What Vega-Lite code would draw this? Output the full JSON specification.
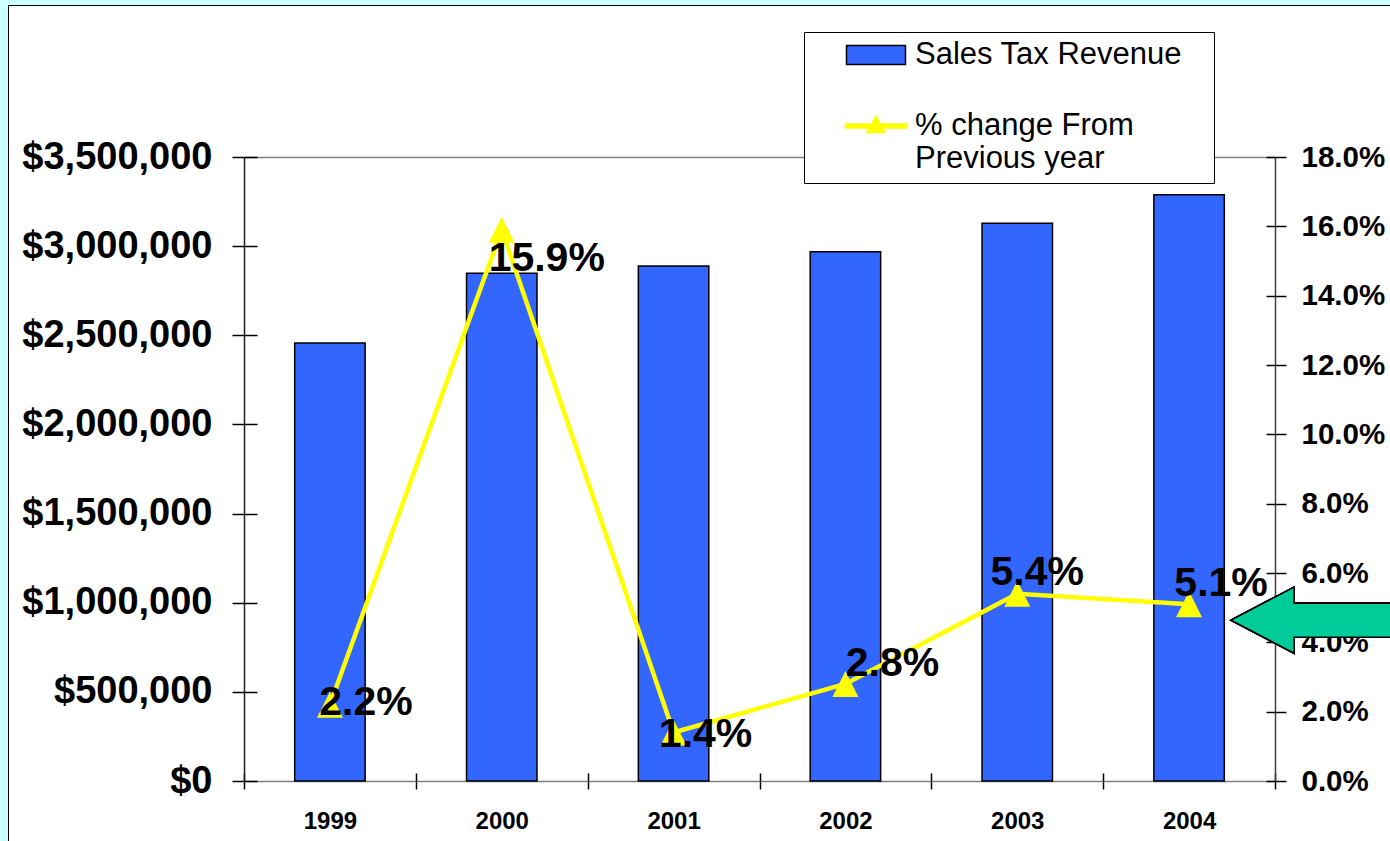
{
  "$schema": "https://vega.github.io/schema/vega-lite/v6.json",
  "width": 1382,
  "height": 836,
  "autosize": {"type": "none"},
  "padding": {"left": 8, "top": 5, "right": 0, "bottom": 0},
  "background": "#CCFFFF",
  "config": {
    "view": {"fill": "white", "stroke": "black", "strokeWidth": 1, "strokeDash": [1382, 2218, 836]},
    "font": "Liberation Sans",
    "axis": {"labelFont": "Liberation Sans", "labelFontWeight": "bold", "labelColor": "black", "tickColor": "black", "grid": false}
  },
  "data": {
    "values": [
      {"year": "1999", "revenue": 2457000, "pct": 2.2, "label": "2.2%"},
      {"year": "2000", "revenue": 2848000, "pct": 15.9, "label": "15.9%"},
      {"year": "2001", "revenue": 2888000, "pct": 1.4, "label": "1.4%"},
      {"year": "2002", "revenue": 2969000, "pct": 2.8, "label": "2.8%"},
      {"year": "2003", "revenue": 3129000, "pct": 5.4, "label": "5.4%"},
      {"year": "2004", "revenue": 3288000, "pct": 5.1, "label": "5.1%"}
    ]
  },
  "resolve": {"scale": {"y": "independent"}, "axis": {"x": "independent", "y": "independent"}},
  "layer": [
    {
      "mark": {"type": "bar", "width": {"band": 0.41}, "stroke": "black", "strokeWidth": 1.5},
      "encoding": {
        "x": {
          "field": "year", "type": "ordinal",
          "scale": {"range": [236, 1267], "paddingInner": 0, "paddingOuter": 0},
          "axis": {"orient": "bottom", "offset": -60, "title": null, "tickBand": "extent", "tickSize": 8, "tickWidth": 1.5, "labelFontSize": 24, "labelPadding": 20, "labelAngle": 0, "domainColor": "#808080", "domainWidth": 1.5}
        },
        "y": {
          "field": "revenue", "type": "quantitative",
          "scale": {"domain": [0, 3500000], "range": [776, 152], "nice": false},
          "axis": {"orient": "left", "offset": -236, "title": null, "values": [0, 500000, 1000000, 1500000, 2000000, 2500000, 3000000, 3500000], "format": "$,.0f", "labelFontSize": 38, "labelLimit": 400, "tickSize": 12, "tickWidth": 1.5, "labelPadding": 20, "domainColor": "#202020", "domainWidth": 1.5}
        },
        "color": {
          "datum": "Sales Tax Revenue", "type": "nominal",
          "scale": {"domain": ["Sales Tax Revenue"], "range": ["#3366FF"]},
          "legend": {
            "orient": "none", "legendX": 852.5, "legendY": 34.5, "title": null, "zindex": 2,
            "padding": 0,
            "symbolType": "M-29.5,-9.5H29.5V9.5H-29.5Z", "symbolSize": 4, "symbolOffset": 0, "labelOffset": 23.5,
            "symbolStrokeColor": "black", "symbolStrokeWidth": 1.5, "symbolOpacity": 1,
            "labelFontSize": 31, "labelFont": "Liberation Sans", "labelColor": "black", "labelLimit": 600,
            "labelBaseline": "middle"
          }
        }
      }
    },
    {
      "mark": {"type": "line", "color": "#FFFF00", "strokeWidth": 4.5},
      "encoding": {
        "x": {"field": "year", "type": "ordinal", "axis": {"orient": "top", "offset": -152, "title": null, "labels": false, "ticks": false, "domainColor": "#808080", "domainWidth": 1.5}},
        "y": {
          "field": "pct", "type": "quantitative",
          "scale": {"domain": [0, 18], "range": [776, 152], "nice": false},
          "axis": {"orient": "right", "offset": -115, "title": null, "values": [0, 2, 4, 6, 8, 10, 12, 14, 16, 18], "labelExpr": "format(datum.value, '.1f') + '%'", "labelFontSize": 29.5, "tickSize": 11, "tickWidth": 1.5, "labelPadding": 15, "domainColor": "#404040", "domainWidth": 1.5}
        }
      }
    },
    {
      "mark": {"type": "point", "shape": "M0,-1L1,1H-1Z", "size": 676, "filled": true, "opacity": 1, "strokeWidth": 0},
      "encoding": {
        "x": {"field": "year", "type": "ordinal", "axis": null},
        "y": {"field": "pct", "type": "quantitative", "axis": null, "scale": {"domain": [0, 18], "range": [776, 152], "nice": false}},
        "fill": {
          "datum": "% change From Previous year", "type": "nominal",
          "scale": {"domain": ["% change From Previous year"], "range": ["#FFFF00"]},
          "legend": {
            "orient": "none", "legendX": 852.5, "legendY": 105.5, "zindex": 2, "title": null,
            "padding": 0,
            "symbolType": "M-31,-2.5H31V2.5H-31Z M0,-11L10,7H-10Z", "symbolSize": 4, "symbolOffset": 0, "labelOffset": 23.5,
            "symbolFillColor": "#FFFF00", "symbolStrokeColor": "#FFFF00", "symbolStrokeWidth": 0.5, "symbolOpacity": 1,
            "labelFontSize": 31, "labelFont": "Liberation Sans", "labelColor": "black", "labelLimit": 600,
            "labelBaseline": "middle",
            "labelExpr": "['% change From', 'Previous year']"
          }
        }
      }
    },
    {
      "transform": [{"filter": "false"}],
      "mark": {"type": "point", "filled": true, "fill": "transparent", "stroke": "transparent", "strokeWidth": 0, "size": 4},
      "encoding": {
        "x": {"field": "year", "type": "ordinal", "axis": null},
        "y": {
          "field": "revenue", "type": "quantitative",
          "scale": {"domain": [0, 3500000], "range": [776, 152], "nice": false},
          "axis": {"orient": "left", "offset": -236, "title": null, "values": [0, 500000, 1000000, 1500000, 2000000, 2500000, 3000000, 3500000], "labels": false, "domain": false, "tickSize": -13, "tickWidth": 1.5}
        },
        "shape": {
          "datum": "legend box", "type": "nominal",
          "scale": {"domain": ["legend box"], "range": ["M-17,-16H395V136H-17Z"]},
          "legend": {
            "orient": "none", "legendX": 796, "legendY": 27, "zindex": 1, "title": null,
            "padding": 0, "fillColor": "white", "strokeColor": "black",
            "symbolSize": 4, "symbolOffset": 0,
            "symbolFillColor": "transparent", "symbolStrokeColor": "transparent", "symbolStrokeWidth": 0, "symbolOpacity": 1,
            "labelFontSize": 30, "labelExpr": "''"
          }
        }
      }
    },
    {
      "transform": [{"filter": "datum.year == '1999'"}],
      "mark": {"type": "text", "fontSize": 41, "fontWeight": "bold", "font": "Liberation Sans", "color": "black", "baseline": "middle", "align": "center", "dx": 36, "dy": -2},
      "encoding": {
        "x": {"field": "year", "type": "ordinal", "axis": {"orient": "bottom", "offset": -60, "title": null, "tickBand": "extent", "labels": false, "domain": false, "tickSize": -8, "tickWidth": 1.5}},
        "y": {"field": "pct", "type": "quantitative", "scale": {"domain": [0, 18], "range": [776, 152], "nice": false},
              "axis": {"orient": "right", "offset": -115, "title": null, "values": [0, 2, 4, 6, 8, 10, 12, 14, 16, 18], "labels": false, "domain": false, "tickSize": -9, "tickWidth": 1.5}},
        "text": {"field": "label"}
      }
    },
    {
      "transform": [{"filter": "datum.year == '2000'"}],
      "mark": {"type": "text", "fontSize": 41, "fontWeight": "bold", "font": "Liberation Sans", "color": "black", "baseline": "middle", "align": "center", "dx": 45, "dy": 29},
      "encoding": {"x": {"field": "year", "type": "ordinal", "axis": null}, "y": {"field": "pct", "type": "quantitative", "axis": null, "scale": {"domain": [0, 18], "range": [776, 152], "nice": false}}, "text": {"field": "label"}}
    },
    {
      "transform": [{"filter": "datum.year == '2001'"}],
      "mark": {"type": "text", "fontSize": 41, "fontWeight": "bold", "font": "Liberation Sans", "color": "black", "baseline": "middle", "align": "center", "dx": 32, "dy": 3},
      "encoding": {"x": {"field": "year", "type": "ordinal", "axis": null}, "y": {"field": "pct", "type": "quantitative", "axis": null, "scale": {"domain": [0, 18], "range": [776, 152], "nice": false}}, "text": {"field": "label"}}
    },
    {
      "transform": [{"filter": "datum.year == '2002'"}],
      "mark": {"type": "text", "fontSize": 41, "fontWeight": "bold", "font": "Liberation Sans", "color": "black", "baseline": "middle", "align": "center", "dx": 47, "dy": -20},
      "encoding": {"x": {"field": "year", "type": "ordinal", "axis": null}, "y": {"field": "pct", "type": "quantitative", "axis": null, "scale": {"domain": [0, 18], "range": [776, 152], "nice": false}}, "text": {"field": "label"}}
    },
    {
      "transform": [{"filter": "datum.year == '2003'"}],
      "mark": {"type": "text", "fontSize": 41, "fontWeight": "bold", "font": "Liberation Sans", "color": "black", "baseline": "middle", "align": "center", "dx": 20, "dy": -21},
      "encoding": {"x": {"field": "year", "type": "ordinal", "axis": null}, "y": {"field": "pct", "type": "quantitative", "axis": null, "scale": {"domain": [0, 18], "range": [776, 152], "nice": false}}, "text": {"field": "label"}}
    },
    {
      "transform": [{"filter": "datum.year == '2004'"}],
      "mark": {"type": "text", "fontSize": 41, "fontWeight": "bold", "font": "Liberation Sans", "color": "black", "baseline": "middle", "align": "center", "dx": 32, "dy": -20},
      "encoding": {"x": {"field": "year", "type": "ordinal", "axis": null}, "y": {"field": "pct", "type": "quantitative", "axis": null, "scale": {"domain": [0, 18], "range": [776, 152], "nice": false}}, "text": {"field": "label"}}
    },
    {
      "mark": {"type": "point", "shape": "M42,0L105,-33L105,-17L270,-17L270,17L105,17L105,33Z", "size": 4, "filled": true, "fill": "#00CC99", "stroke": "black", "strokeWidth": 1.5, "opacity": 1},
      "encoding": {
        "x": {"datum": "2004", "type": "ordinal", "axis": null},
        "y": {"datum": 4.64, "type": "quantitative", "axis": null, "scale": {"domain": [0, 18], "range": [776, 152], "nice": false}}
      }
    }
  ]
}
